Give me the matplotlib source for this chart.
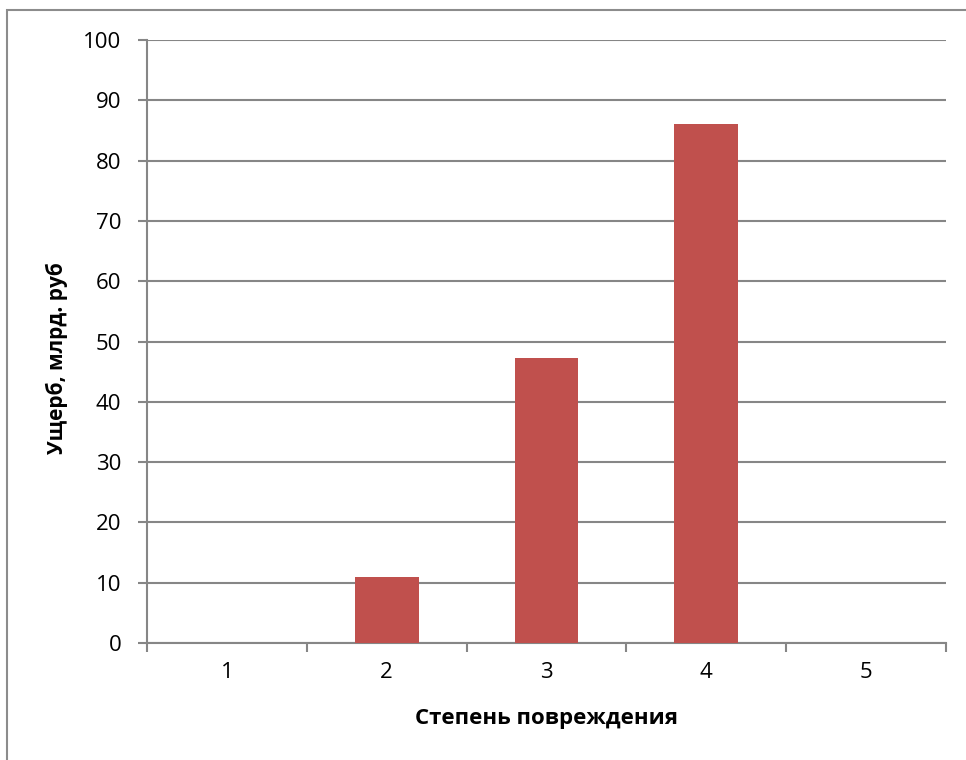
import matplotlib
matplotlib.use("Agg")
from matplotlib import pyplot as plt
from matplotlib.patches import Rectangle
import numpy as np

# data
degrees = [1, 2, 3, 4, 5]
damage = [0, 11, 47.3, 86, 0]  # млрд. руб
yticks = list(range(0, 101, 10))

plt.rcParams['font.family'] = ['Open Sans', 'DejaVu Sans']
grey = '#868686'

fig = plt.figure(figsize=(9.66, 7.6), dpi=100)
ax = fig.add_axes([147/966, 1-643/760, (946-147)/966, (643-40)/760])

ax.bar(degrees, damage, width=0.4, color='#C0504D', zorder=3)

ax.set_xlim(0.5, 5.5)
ax.set_ylim(0, 100)
ax.set_yticks(yticks)
ax.set_xticks(np.arange(0.5, 6.0, 1.0))
ax.set_xticklabels([])
ax.set_xticks(degrees, minor=True)
ax.set_xticklabels([str(d) for d in degrees], minor=True)
ax.tick_params(axis='x', which='minor', length=0, pad=14, labelsize=16)
ax.tick_params(axis='x', which='major', length=6.5, width=1.5, color=grey, direction='out')
ax.tick_params(axis='y', length=6.5, width=1.5, color=grey, labelsize=16, pad=12)

ax.grid(axis='y', color=grey, linewidth=1.5, zorder=0)
ax.set_axisbelow(True)
for s in ['top', 'right']:
    ax.spines[s].set_visible(False)
for s in ['left', 'bottom']:
    ax.spines[s].set_color(grey)
    ax.spines[s].set_linewidth(1.5)

ax.set_xlabel('Степень повреждения', fontsize=16, fontweight='bold', labelpad=18)
ax.set_ylabel('Ущерб, млрд. руб', fontsize=15, fontweight='bold')
ax.yaxis.set_label_coords(-(147-68)/799, 0.473)

# outer chart border
fig.patches.append(Rectangle((7/966, -0.1), 1.2, 1-10/760+0.1, transform=fig.transFigure,
                             fill=False, edgecolor='#8c8c8c', linewidth=1.5))

fig.savefig('out.png', dpi=100)
